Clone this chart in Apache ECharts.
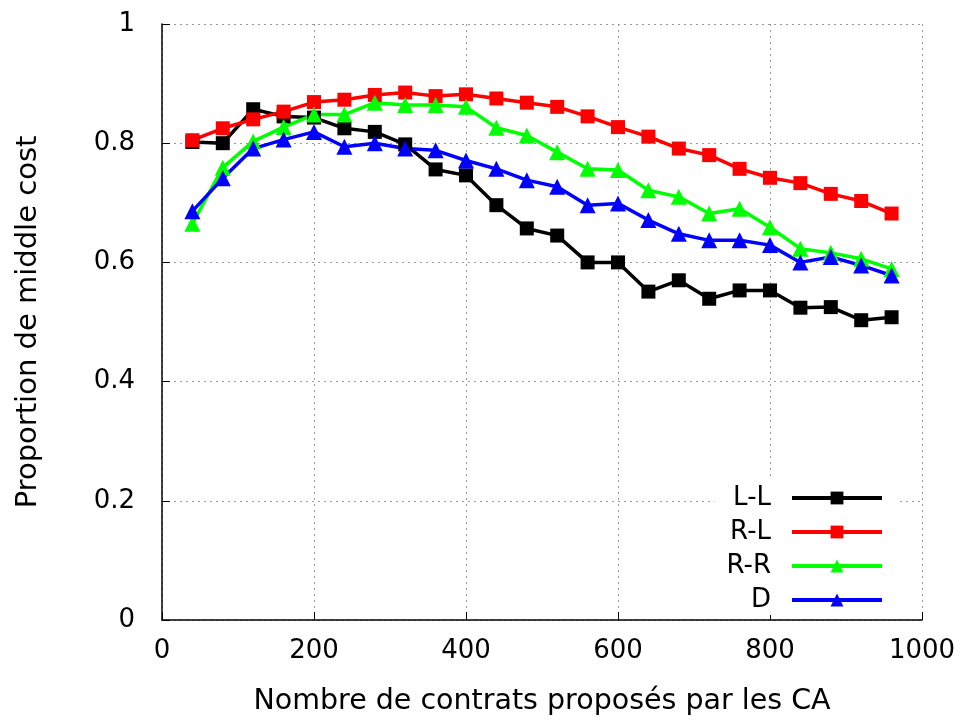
<!DOCTYPE html>
<html>
<head>
    <meta charset="UTF-8">
    <title>Proportion de middle cost</title>
    <script type="text/javascript" src="https://cdn.jsdelivr.net/npm/echarts@6/dist/echarts.min.js"></script>
</head>
<body style="margin:0; background:#fff;">
    <div id="chart_main" style="width:960px; height:721px;"></div>
    <script>
        // nombre de contrats (x) and the four curves
        var xValues = [40, 80, 120, 160, 200, 240, 280, 320, 360, 400, 440, 480,
                       520, 560, 600, 640, 680, 720, 760, 800, 840, 880, 920, 960];
        var seriesNames = ["L-L", "R-L", "R-R", "D"];
        var valuesLL = [0.802, 0.800, 0.857, 0.845, 0.843, 0.825, 0.819, 0.798, 0.756, 0.746, 0.696, 0.657,
                        0.645, 0.600, 0.600, 0.551, 0.570, 0.539, 0.553, 0.553, 0.524, 0.525, 0.503, 0.508];
        var valuesRL = [0.805, 0.825, 0.840, 0.853, 0.869, 0.873, 0.881, 0.885, 0.879, 0.882, 0.875, 0.868,
                        0.861, 0.845, 0.827, 0.811, 0.791, 0.780, 0.757, 0.742, 0.733, 0.715, 0.703, 0.682];
        var valuesRR = [0.665, 0.759, 0.803, 0.827, 0.848, 0.848, 0.868, 0.864, 0.864, 0.861, 0.826, 0.813,
                        0.785, 0.757, 0.755, 0.721, 0.710, 0.682, 0.690, 0.659, 0.623, 0.616, 0.606, 0.589];
        var valuesD  = [0.686, 0.741, 0.791, 0.806, 0.819, 0.794, 0.800, 0.791, 0.788, 0.771, 0.757, 0.738,
                        0.727, 0.696, 0.699, 0.671, 0.648, 0.637, 0.637, 0.629, 0.600, 0.609, 0.595, 0.578];
        var xTicks = [0, 200, 400, 600, 800, 1000];
        var yTicks = [0, 0.2, 0.4, 0.6, 0.8, 1];

        var colors = ["#000000", "#ff0000", "#00ff00", "#0000ff"];
        var symbols = ["rect", "rect", "triangle", "triangle"];
        var allValues = [valuesLL, valuesRL, valuesRR, valuesD];

        function pairs(ys) {
            return xValues.map(function (x, i) { return [x, ys[i]]; });
        }

        var font = "DejaVu Sans";
        var gridStyle = {show: true, lineStyle: {color: "#9a9a9a", type: [2, 4], width: 1}};

        var chart_main = echarts.init(document.getElementById('chart_main'), null, {renderer: 'canvas'});

        var series = seriesNames.map(function (name, k) {
            return {
                type: "line",
                name: name,
                data: pairs(allValues[k]),
                symbol: symbols[k],
                symbolSize: k < 2 ? 14 : 16,
                showAllSymbol: true,
                lineStyle: {color: colors[k], width: 3.5},
                itemStyle: {color: colors[k]},
                emphasis: {disabled: true}
            };
        });

        var option_main = {
            animation: false,
            backgroundColor: "#ffffff",
            grid: {left: 162, right: 38, top: 24, bottom: 101},
            legend: {
                data: seriesNames,
                orient: "vertical",
                align: "right",
                right: 60,
                top: 477,
                padding: [8, 16, 2, 12],
                itemWidth: 90,
                itemHeight: 16,
                itemGap: 8,
                backgroundColor: "#ffffff",
                lineStyle: {width: 4},
                textStyle: {fontFamily: font, fontSize: 26, color: "#000", padding: [0, 16, 0, 0]}
            },
            xAxis: {
                type: "value",
                min: xTicks[0],
                max: xTicks[xTicks.length - 1],
                interval: 200,
                name: "Nombre de contrats proposés par les CA",
                nameLocation: "middle",
                nameGap: 67,
                nameTextStyle: {fontFamily: font, fontSize: 28.5, color: "#000"},
                axisLine: {lineStyle: {color: "#000", width: 1.5}},
                axisTick: {inside: true, length: 8, lineStyle: {color: "#000"}},
                axisLabel: {fontFamily: font, fontSize: 26, color: "#000", margin: 18,
                            formatter: function (v) { return String(v); }},
                splitLine: gridStyle
            },
            yAxis: {
                type: "value",
                min: yTicks[0],
                max: yTicks[yTicks.length - 1],
                interval: 0.2,
                name: "Proportion de middle cost",
                nameLocation: "middle",
                nameGap: 119,
                nameTextStyle: {fontFamily: font, fontSize: 29, color: "#000"},
                axisLine: {show: true, lineStyle: {color: "#000", width: 1.5}},
                axisTick: {show: true, inside: true, length: 8, lineStyle: {color: "#000"}},
                axisLabel: {fontFamily: font, fontSize: 26, color: "#000", margin: 27},
                splitLine: gridStyle
            },
            series: series
        };
        chart_main.setOption(option_main);
    </script>
</body>
</html>
